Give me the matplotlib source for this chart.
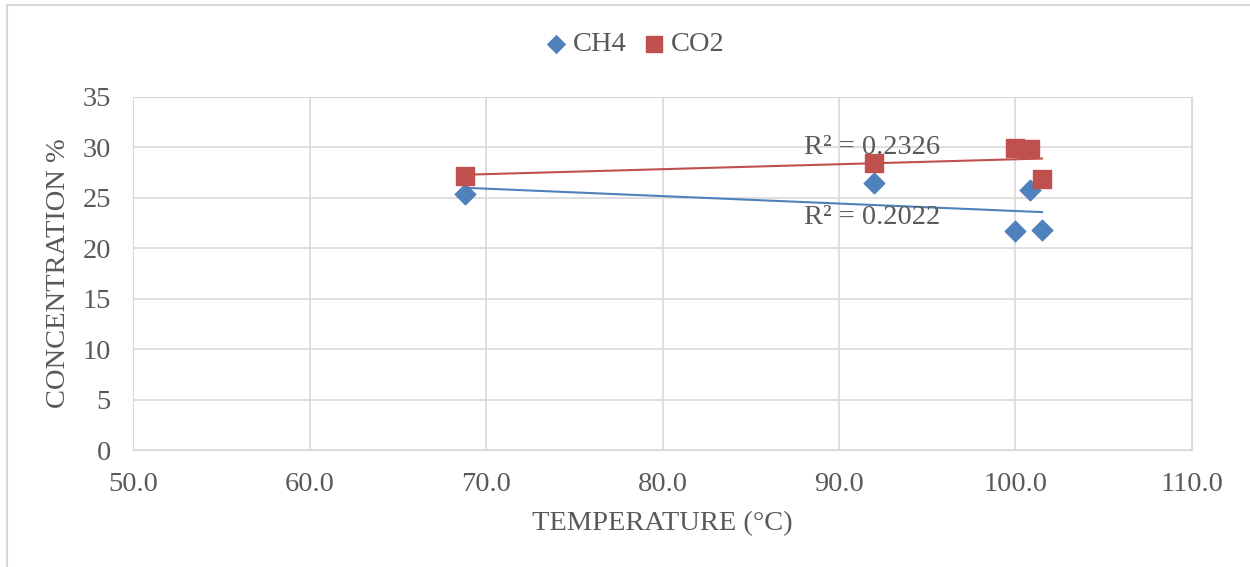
import matplotlib.pyplot as plt
import numpy as np

temp = [68.8, 92.0, 100.0, 100.8, 101.5]
ch4 = [25.4, 26.5, 21.7, 25.8, 21.8]
co2 = [27.2, 28.5, 29.9, 29.8, 26.9]
r2_labels = ["R\u00b2 = 0.2326", "R\u00b2 = 0.2022"]

plt.rcParams['font.family'] = ['Liberation Serif', 'DejaVu Serif']
grey = '#595959'
blue = '#4f81bd'
red = '#c0504d'
fs = 20.5

fig = plt.figure(figsize=(12.5, 5.67), dpi=100)
ax = fig.add_axes([0.1064, 0.2063, 0.8472, 0.6227])

ax.scatter(temp, ch4, marker='D', s=110, color=blue, label='CH4', zorder=3)
ax.scatter(temp, co2, marker='s', s=170, color=red, label='CO2', zorder=3)

# linear trendlines
xs = np.array([min(temp), max(temp)])
for ys, c in [(ch4, blue), (co2, red)]:
    k, b = np.polyfit(temp, ys, 1)
    ax.plot(xs, k * xs + b, color=c, lw=1.5, zorder=2)

ax.text(91.9, 30.0, r2_labels[0], fontsize=fs, color=grey, ha='center', va='center', zorder=4)
ax.text(91.9, 23.1, r2_labels[1], fontsize=fs, color=grey, ha='center', va='center', zorder=4)

ax.set_xlim(50, 110)
ax.set_ylim(0, 35)
ax.set_xticks(np.arange(50, 111, 10))
ax.set_xticklabels([f"{v:.1f}" for v in np.arange(50, 111, 10)])
ax.set_yticks(np.arange(0, 36, 5))
ax.grid(True, color='#d9d9d9', lw=1.2)
ax.set_axisbelow(True)
for s in ax.spines.values():
    s.set_color('#d9d9d9')
ax.tick_params(axis='x', length=0, labelsize=fs, colors=grey, pad=16)
ax.tick_params(axis='y', length=0, labelsize=fs, colors=grey, pad=16)

ax.set_xlabel('TEMPERATURE (\u00b0C)', fontsize=fs, color=grey, labelpad=10)
ax.set_ylabel('CONCENTRATION %', fontsize=fs, color=grey, labelpad=8)

fig.legend(loc='center', bbox_to_anchor=(0.508, 0.922), ncol=2, frameon=False,
           fontsize=fs, labelcolor=grey, handlelength=0.7, handletextpad=0.25,
           columnspacing=0.6, markerscale=0.85)

# outer chart frame: only top and left edges are visible
fig.add_artist(plt.Line2D([0.0056, 0.0056], [0, 0.991], transform=fig.transFigure,
                          color='#d9d9d9', lw=1.5))
fig.add_artist(plt.Line2D([0.0056, 1.0], [0.991, 0.991], transform=fig.transFigure,
                          color='#d9d9d9', lw=1.5))

fig.savefig('out.png', dpi=100)
